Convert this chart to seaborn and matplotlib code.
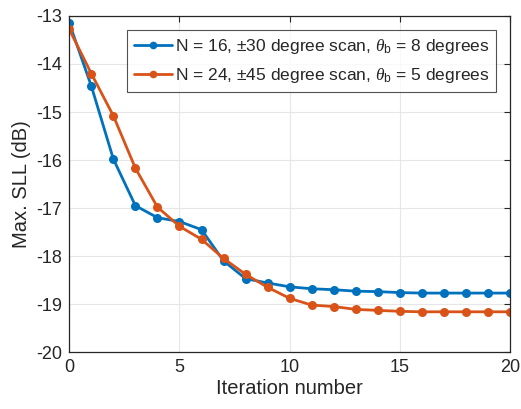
import numpy as np
import pandas as pd
import matplotlib
matplotlib.use("Agg")
import matplotlib.pyplot as plt
import seaborn as sns

# data
iterations = list(range(21))
sll_n16 = [-13.15, -14.46, -15.98, -16.95, -17.2, -17.28, -17.45, -18.1, -18.47, -18.56,
           -18.64, -18.68, -18.7, -18.73, -18.74, -18.76, -18.77, -18.77, -18.77, -18.77, -18.77]
sll_n24 = [-13.28, -14.2, -15.08, -16.17, -16.98, -17.38, -17.65, -18.05, -18.38, -18.65,
           -18.88, -19.02, -19.05, -19.11, -19.13, -19.15, -19.16, -19.16, -19.16, -19.16, -19.16]
labels = [r"N = 16, $\pm$30 degree scan, $\theta_{\rm b}$ = 8 degrees",
          r"N = 24, $\pm$45 degree scan, $\theta_{\rm b}$ = 5 degrees"]
colors = ["#0072BD", "#D95319"]

df = pd.DataFrame({
    "iter": iterations * 2,
    "sll": sll_n16 + sll_n24,
    "case": [labels[0]] * 21 + [labels[1]] * 21,
})

sns.set_style("white")
plt.rcParams["font.family"] = ["Liberation Sans", "DejaVu Sans"]
plt.rcParams["axes.unicode_minus"] = False
plt.rcParams["mathtext.fontset"] = "custom"
plt.rcParams["mathtext.rm"] = "Liberation Sans"
plt.rcParams["mathtext.it"] = "Liberation Serif:italic"

fig, ax = plt.subplots(figsize=(5.21, 4.09), dpi=100)
fig.subplots_adjust(left=0.133, right=0.979, top=0.961, bottom=0.139)

sns.lineplot(data=df, x="iter", y="sll", hue="case", palette=colors, marker="o",
             markersize=6.5, markeredgewidth=0, linewidth=2, ax=ax)

ax.set_xlim(0, 20)
ax.set_ylim(-20, -13)
ax.set_xticks([0, 5, 10, 15, 20])
ax.set_yticks(np.arange(-20, -12, 1))
ax.grid(True, color="#e6e6e6", linewidth=0.8)
ax.tick_params(direction="in", length=4, labelsize=13, top=True, right=True,
               color="#262626", labelcolor="#262626", pad=5)
for s in ax.spines.values():
    s.set_color("#262626")
    s.set_linewidth(0.9)
ax.set_xlabel("Iteration number", fontsize=14.5, color="#262626", labelpad=2)
ax.set_ylabel("Max. SLL (dB)", fontsize=14.5, color="#262626", labelpad=4)

leg = ax.legend(loc="upper right", fontsize=12.5, frameon=True, fancybox=False,
                edgecolor="#262626", borderpad=0.4, handlelength=2.2, handletextpad=0.15,
                labelspacing=0.6, borderaxespad=0.8)
leg.get_frame().set_linewidth(0.8)
for h in leg.legend_handles:
    h.set_markersize(5.5)

fig.savefig("out.png", dpi=100)
